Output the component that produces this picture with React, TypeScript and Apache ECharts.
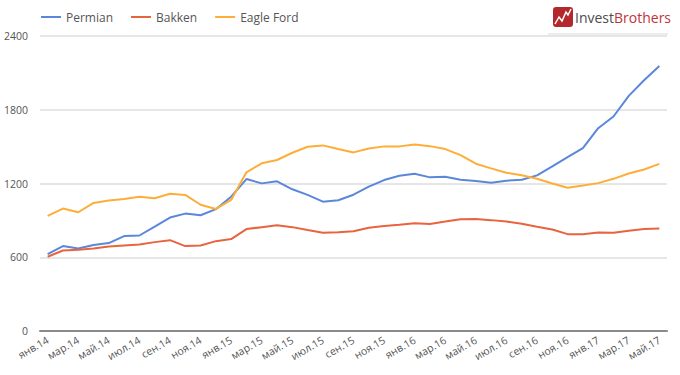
import React, { useEffect, useRef } from "react";
import * as echarts from "echarts";

const monthNames = ["янв", "фев", "мар", "апр", "май", "июн", "июл", "авг", "сен", "окт", "ноя", "дек"];
const categories: string[] = [];
for (let y = 14; y <= 17; y++) {
  for (let m = 0; m < 12; m++) {
    if (y === 17 && m > 4) break;
    categories.push(`${monthNames[m]}.${y}`);
  }
}

const permian = [
  626, 691, 671, 699, 715, 772, 777, 850, 923, 955, 942, 991, 1093, 1236, 1201, 1218, 1153, 1107, 1052, 1064,
  1109, 1175, 1228, 1263, 1279, 1250, 1255, 1231, 1220, 1207, 1223, 1230, 1266, 1339, 1415, 1488, 1650, 1745, 1913, 2040, 2156,
];
const bakken = [
  604, 655, 661, 671, 688, 696, 704, 723, 739, 691, 696, 731, 748, 829, 845, 861, 845, 821, 799, 804,
  812, 840, 855, 864, 877, 871, 890, 910, 912, 902, 890, 872, 848, 826, 788, 788, 802, 800, 815, 829, 834,
];
const eagleFord = [
  936, 996, 966, 1042, 1061, 1074, 1093, 1080, 1117, 1107, 1027, 993, 1066, 1291, 1364, 1391, 1450, 1499, 1510, 1480,
  1453, 1485, 1502, 1502, 1518, 1504, 1480, 1431, 1361, 1323, 1288, 1267, 1239, 1200, 1165, 1183, 1203, 1238, 1281, 1314, 1360,
];
const yTicks = { min: 0, max: 2400, interval: 600 };

const COLORS = ["#5b87db", "#e8643f", "#fdae38"];
const FONT = "Open Sans";

export default function App() {
  const ref = useRef<HTMLDivElement>(null);
  useEffect(() => {
    document.body.style.margin = "0";
    if (!ref.current) return;
    const chart = echarts.init(ref.current, undefined, { renderer: "svg" });
    const mk = (name: string, data: number[], color: string) => ({
      name,
      type: "line",
      data,
      showSymbol: false,
      symbol: "none",
      lineStyle: { color, width: 2 },
      itemStyle: { color },
    });
    chart.setOption({
      animation: false,
      backgroundColor: "#ffffff",
      textStyle: { fontFamily: FONT },
      color: COLORS,
      legend: {
        left: 36,
        top: 6,
        itemWidth: 20,
        itemHeight: 10,
        itemGap: 18,
        icon: "path://M0,4 L20,4 L20,6 L0,6 Z",
        textStyle: { color: "#555", fontSize: 12, fontFamily: FONT },
        data: ["Permian", "Bakken", "Eagle Ford"],
      },
      grid: { left: 40, right: 13, top: 36, bottom: 44, containLabel: false },
      xAxis: {
        type: "category",
        data: categories,
        boundaryGap: true,
        axisTick: { show: false },
        axisLine: { lineStyle: { color: "#8a8a8a", width: 2 } },
        axisLabel: {
          interval: 1,
          rotate: 30,
          fontSize: 10.5,
          color: "#555",
          fontFamily: FONT,
          margin: 8,
        },
      },
      yAxis: {
        type: "value",
        min: yTicks.min,
        max: yTicks.max,
        interval: yTicks.interval,
        axisLine: { show: false },
        axisTick: { show: false },
        splitLine: { lineStyle: { color: "#e6e6e6", width: 2 } },
        axisLabel: {
          fontSize: 10.5,
          color: "#555",
          fontFamily: FONT,
          margin: 12,
          formatter: (v: number) => String(v),
        },
      },
      series: [
        mk("Permian", permian, COLORS[0]),
        mk("Bakken", bakken, COLORS[1]),
        mk("Eagle Ford", eagleFord, COLORS[2]),
      ],
      graphic: [
        {
          type: "rect",
          shape: { x: 553, y: 7, width: 20, height: 20, r: 3 },
          style: { fill: "#b3282d" },
        },
        {
          type: "polyline",
          shape: { points: [[555, 24], [559, 17], [562, 21], [566, 12], [568, 15], [571, 9]] },
          style: { stroke: "#ffffff", lineWidth: 1.5, fill: "none" },
        },
        {
          type: "text",
          x: 575,
          y: 17,
          style: {
            text: "{a|Invest}{b|Brothers}",
            verticalAlign: "middle",
            rich: {
              a: { fontSize: 14, fontFamily: FONT, fill: "#4d4d4d", color: "#4d4d4d" },
              b: { fontSize: 14, fontFamily: FONT, fill: "#c0333a", color: "#c0333a" },
            },
          },
        },
        {
          type: "line",
          shape: { x1: 548, y1: 34, x2: 668, y2: 34 },
          style: { stroke: "#e6e6e6", lineWidth: 1.5 },
        },
      ],
    });
    return () => chart.dispose();
  }, []);
  return <div ref={ref} style={{ width: 680, height: 375 }} />;
}
